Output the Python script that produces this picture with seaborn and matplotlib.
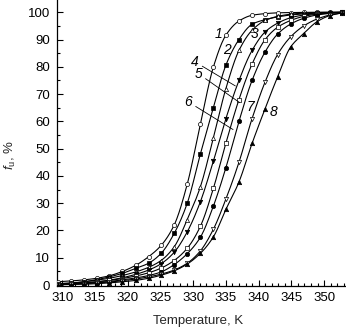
import numpy as np
import pandas as pd
import matplotlib
matplotlib.use("Agg")
import matplotlib.pyplot as plt
import seaborn as sns
from matplotlib.ticker import MultipleLocator

# Measurement temperatures (K)
temperature = [309.3, 311.3, 313.3, 315.3, 317.2, 319.2, 321.2, 323.2, 325.1, 327.1,
               329.1, 331.1, 333.1, 335.0, 337.0, 339.0, 341.0, 342.9, 344.9, 346.9,
               348.9, 350.9, 352.8]

# Unfolded fraction f_u (%) for samples 1-8
fu_1 = [1.2, 1.5, 1.9, 2.5, 3.4, 5.0, 7.2, 10.4, 14.5, 22.0, 37.0, 59.0, 80.0, 91.6,
        96.8, 98.9, 99.5, 99.8, 99.9, 100.0, 100.0, 100.0, 100.0]
fu_2 = [0.3, 0.6, 1.2, 2.0, 3.0, 4.3, 6.1, 8.0, 11.6, 18.9, 30.0, 48.0, 65.0, 80.6,
        90.0, 95.6, 97.3, 98.3, 99.0, 99.4, 99.7, 99.9, 100.0]
fu_3 = [0.5, 0.8, 1.2, 1.8, 2.5, 3.5, 4.8, 6.5, 9.0, 14.0, 24.0, 36.0, 54.0, 72.0,
        86.0, 93.4, 97.0, 98.5, 99.3, 99.7, 99.9, 100.0, 100.0]
fu_4 = [0.3, 0.5, 0.8, 1.2, 1.8, 2.7, 3.9, 5.5, 7.8, 12.0, 19.5, 30.5, 45.5, 61.0,
        75.0, 86.0, 92.8, 96.0, 98.0, 99.0, 99.5, 99.8, 100.0]
fu_5 = [0.3, 0.5, 0.8, 1.2, 1.7, 2.4, 3.3, 4.5, 6.2, 9.0, 13.5, 21.5, 35.5, 52.0,
        68.0, 81.0, 90.0, 94.5, 97.0, 98.5, 99.3, 99.7, 100.0]
fu_6 = [0.2, 0.4, 0.6, 0.9, 1.3, 1.9, 2.6, 3.5, 4.8, 7.5, 11.5, 17.5, 29.0, 43.0,
        60.0, 75.0, 85.5, 92.0, 95.7, 97.8, 99.0, 99.6, 100.0]
fu_7 = [0.2, 0.3, 0.5, 0.8, 1.1, 1.6, 2.2, 3.0, 4.0, 5.5, 8.0, 12.5, 20.5, 31.5,
        45.0, 61.0, 74.5, 84.5, 91.0, 95.0, 97.5, 99.0, 99.8]
fu_8 = [0.1, 0.2, 0.3, 0.5, 0.8, 1.2, 1.7, 2.5, 3.6, 5.2, 7.7, 11.6, 17.7, 27.7,
        37.8, 51.9, 64.7, 76.3, 87.3, 92.2, 96.5, 98.8, 99.8]

series = [fu_1, fu_2, fu_3, fu_4, fu_5, fu_6, fu_7, fu_8]
sample_names = ["1", "2", "3", "4", "5", "6", "7", "8"]

# marker shape and whether it is filled, per sample
marker_shapes = ["o", "s", "^", "v", "s", "o", "v", "^"]
marker_filled = [False, True, False, True, False, True, False, True]


def pchip(x, y, xs):
    """Monotone cubic (Fritsch-Carlson) curve through the measured points."""
    x = np.asarray(x, float)
    y = np.asarray(y, float)
    h = np.diff(x)
    d = np.diff(y) / h
    m = np.zeros_like(y)
    for k in range(1, len(x) - 1):
        if d[k - 1] * d[k] > 0:
            w1 = 2 * h[k] + h[k - 1]
            w2 = h[k] + 2 * h[k - 1]
            m[k] = (w1 + w2) / (w1 / d[k - 1] + w2 / d[k])
    m[0] = d[0]
    m[-1] = d[-1]
    idx = np.clip(np.searchsorted(x, xs) - 1, 0, len(h) - 1)
    t = (xs - x[idx]) / h[idx]
    h00 = 2 * t**3 - 3 * t**2 + 1
    h10 = t**3 - 2 * t**2 + t
    h01 = -2 * t**3 + 3 * t**2
    h11 = t**3 - t**2
    return (h00 * y[idx] + h10 * h[idx] * m[idx]
            + h01 * y[idx + 1] + h11 * h[idx] * m[idx + 1])


sns.set_style("ticks")
plt.rcParams["font.family"] = ["Liberation Sans", "DejaVu Sans"]
plt.rcParams["mathtext.fontset"] = "custom"
plt.rcParams["mathtext.it"] = "Liberation Sans:italic"
plt.rcParams["mathtext.rm"] = "Liberation Sans"

fig = plt.figure(figsize=(3.46, 3.32), dpi=100)
ax = fig.add_axes([0.1647, 0.1373, 0.8324, 0.8627])

t_dense = np.linspace(temperature[0], temperature[-1], 400)
for name, fu, mk, filled in zip(sample_names, series, marker_shapes, marker_filled):
    curve = pd.DataFrame({"T": t_dense, "fu": pchip(temperature, fu, t_dense)})
    sns.lineplot(data=curve, x="T", y="fu", color="black", linewidth=0.8, ax=ax)
    pts = pd.DataFrame({"T": temperature, "fu": fu})
    sns.scatterplot(data=pts, x="T", y="fu", marker=mk,
                    color="black" if filled else "white",
                    edgecolor="black", linewidth=0.5,
                    s=10 if filled else 9, zorder=3, ax=ax)

# curve numbers
label_kw = dict(fontsize=10, fontstyle="italic", color="black")
ax.text(333.9, 92.2, "1", ha="center", va="center", **label_kw)
ax.text(335.2, 86.0, "2", ha="center", va="center", **label_kw)
ax.text(339.4, 92.2, "3", ha="center", va="center", **label_kw)
ax.text(338.7, 65.3, "7", ha="center", va="center", **label_kw)
ax.text(342.3, 63.5, "8", ha="center", va="center", **label_kw)

leader = dict(arrowstyle="-", color="black", lw=0.6, shrinkA=0, shrinkB=0)
ax.annotate("4", xy=(336.45, 73.0), xytext=(330.3, 81.8), ha="center", va="center",
            arrowprops=leader, **label_kw)
ax.annotate("5", xy=(337.1, 66.9), xytext=(330.8, 77.5), ha="center", va="center",
            arrowprops=leader, **label_kw)
ax.annotate("6", xy=(336.1, 57.0), xytext=(329.3, 67.1), ha="center", va="center",
            arrowprops=leader, **label_kw)

ax.set_xlim(309.2, 353.2)
ax.set_ylim(-0.5, 104.5)
ax.xaxis.set_minor_locator(MultipleLocator(1))
ax.yaxis.set_minor_locator(MultipleLocator(5))
ax.set_yticks(np.arange(0, 101, 10))
ax.set_xticks(np.arange(310, 351, 5))

ax.tick_params(which="both", direction="in", width=0.8, color="black",
               labelsize=9.5, labelcolor="black")
ax.tick_params(which="major", length=4)
ax.tick_params(which="minor", length=2.5)
ax.tick_params(axis="x", pad=4)
ax.tick_params(axis="y", pad=5)

for side in ["top", "right"]:
    ax.spines[side].set_visible(False)
for side in ["left", "bottom"]:
    ax.spines[side].set_linewidth(0.9)
    ax.spines[side].set_color("black")

ax.set_xlabel("Temperature, K", fontsize=9.5)
ax.set_ylabel(r"$f_{\mathrm{u}}$, %", fontsize=9.5)
ax.xaxis.set_label_coords(0.49, -0.10)
ax.yaxis.set_label_coords(-0.135, 0.46)

fig.savefig("out.png", dpi=100)
